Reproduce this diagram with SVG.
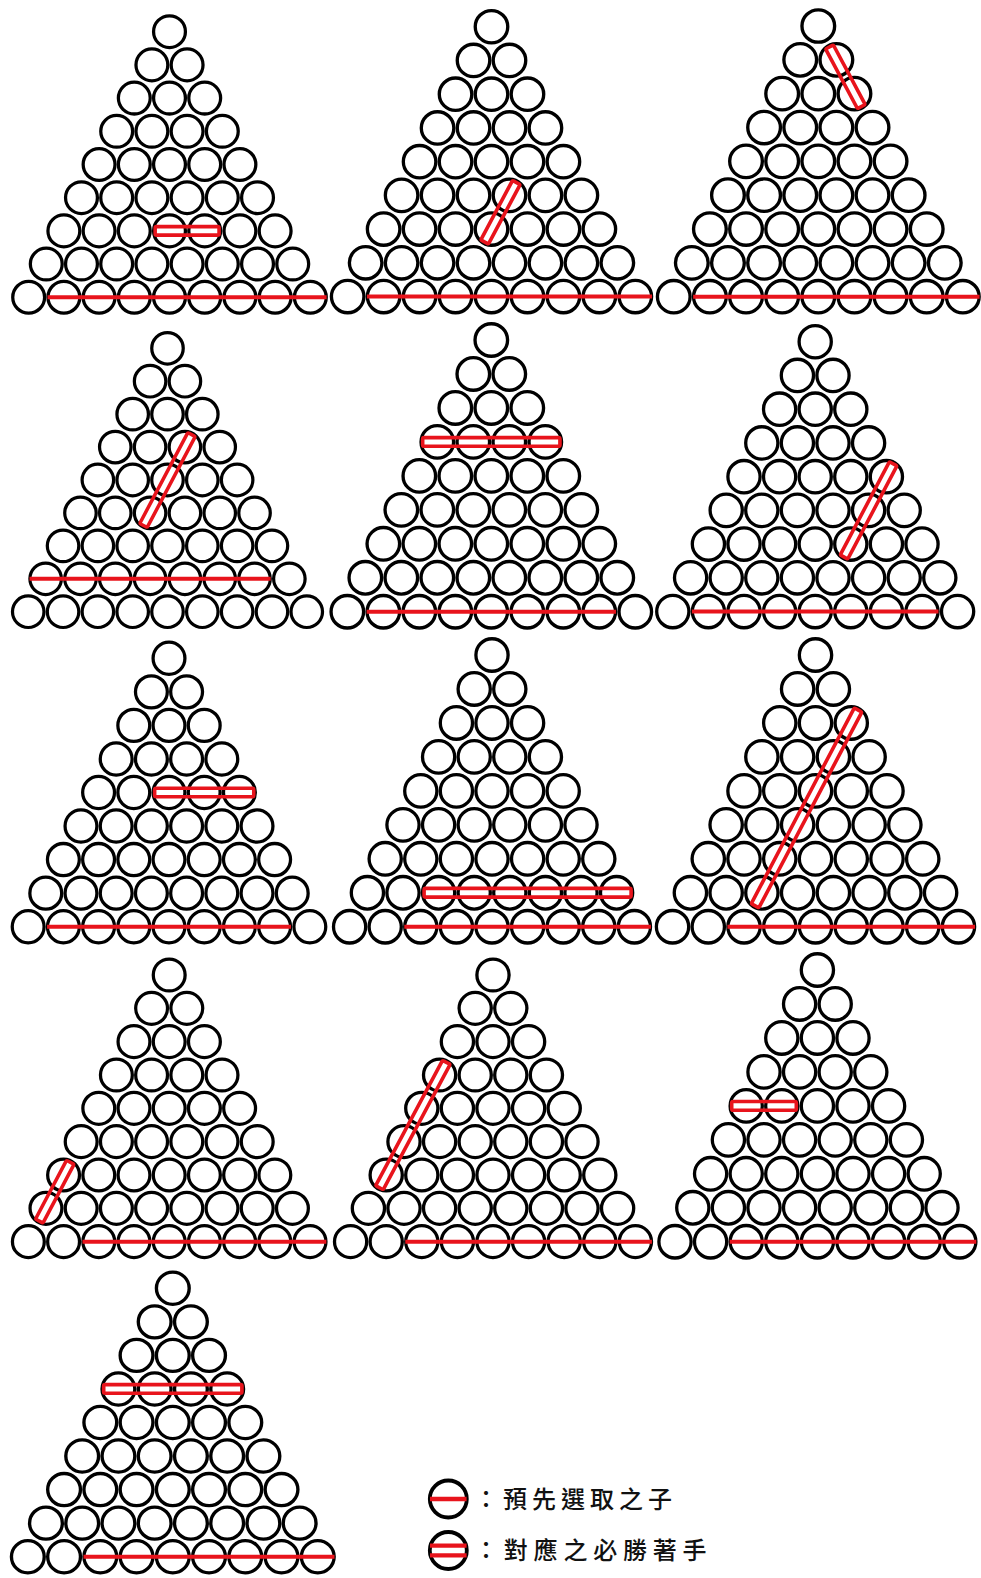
<svg xmlns="http://www.w3.org/2000/svg" xmlns:xlink="http://www.w3.org/1999/xlink" width="981" height="1578" viewBox="0 0 981 1578">
<style>
.c{fill:#fff;stroke:#000;stroke-width:3.3}
.base{stroke:#e8141c;stroke-width:4;fill:none}
.dbl{fill:none;stroke:#e8141c;stroke-width:3.6}
.lc{fill:#fff;stroke:#000;stroke-width:3.8}
.lt{font-family:"Noto Sans CJK TC","Noto Sans CJK SC",sans-serif;font-size:24px;font-weight:500;fill:#111}
</style>
<defs>
<g id="tri">
<circle class="c" cx="0" cy="0" r="16.1"/>
<circle class="c" cx="-17.8" cy="33.6" r="16.1"/><circle class="c" cx="17.8" cy="33.6" r="16.1"/>
<circle class="c" cx="-35.6" cy="67.2" r="16.1"/><circle class="c" cx="0" cy="67.2" r="16.1"/><circle class="c" cx="35.6" cy="67.2" r="16.1"/>
<circle class="c" cx="-53.4" cy="100.8" r="16.1"/><circle class="c" cx="-17.8" cy="100.8" r="16.1"/><circle class="c" cx="17.8" cy="100.8" r="16.1"/><circle class="c" cx="53.4" cy="100.8" r="16.1"/>
<circle class="c" cx="-71.2" cy="134.4" r="16.1"/><circle class="c" cx="-35.6" cy="134.4" r="16.1"/><circle class="c" cx="0" cy="134.4" r="16.1"/><circle class="c" cx="35.6" cy="134.4" r="16.1"/><circle class="c" cx="71.2" cy="134.4" r="16.1"/>
<circle class="c" cx="-89" cy="168" r="16.1"/><circle class="c" cx="-53.4" cy="168" r="16.1"/><circle class="c" cx="-17.8" cy="168" r="16.1"/><circle class="c" cx="17.8" cy="168" r="16.1"/><circle class="c" cx="53.4" cy="168" r="16.1"/><circle class="c" cx="89" cy="168" r="16.1"/>
<circle class="c" cx="-106.8" cy="201.6" r="16.1"/><circle class="c" cx="-71.2" cy="201.6" r="16.1"/><circle class="c" cx="-35.6" cy="201.6" r="16.1"/><circle class="c" cx="0" cy="201.6" r="16.1"/><circle class="c" cx="35.6" cy="201.6" r="16.1"/><circle class="c" cx="71.2" cy="201.6" r="16.1"/><circle class="c" cx="106.8" cy="201.6" r="16.1"/>
<circle class="c" cx="-124.6" cy="235.2" r="16.1"/><circle class="c" cx="-89" cy="235.2" r="16.1"/><circle class="c" cx="-53.4" cy="235.2" r="16.1"/><circle class="c" cx="-17.8" cy="235.2" r="16.1"/><circle class="c" cx="17.8" cy="235.2" r="16.1"/><circle class="c" cx="53.4" cy="235.2" r="16.1"/><circle class="c" cx="89" cy="235.2" r="16.1"/><circle class="c" cx="124.6" cy="235.2" r="16.1"/>
<circle class="c" cx="-142.4" cy="268.8" r="16.1"/><circle class="c" cx="-106.8" cy="268.8" r="16.1"/><circle class="c" cx="-71.2" cy="268.8" r="16.1"/><circle class="c" cx="-35.6" cy="268.8" r="16.1"/><circle class="c" cx="0" cy="268.8" r="16.1"/><circle class="c" cx="35.6" cy="268.8" r="16.1"/><circle class="c" cx="71.2" cy="268.8" r="16.1"/><circle class="c" cx="106.8" cy="268.8" r="16.1"/><circle class="c" cx="142.4" cy="268.8" r="16.1"/>
</g>
</defs>

<g id="t1" transform="translate(169.5,31.7) scale(0.989,0.988)">
<use href="#tri"/>
<line class="base" x1="-123.3" y1="268.8" x2="158.9" y2="268.8"/>
<rect class="dbl" x="-14.5" y="197.3" width="64.6" height="8.6" rx="1.5"/>
</g>
<g id="t2" transform="translate(491.5,26.7) scale(1.01,1.004)">
<use href="#tri"/>
<line class="base" x1="-123.3" y1="268.8" x2="158.9" y2="268.8"/>
<rect class="dbl" x="-14.5" y="-4.3" width="67" height="8.6" rx="1.5" transform="translate(0,201.6) rotate(-62.08)"/>
</g>
<g id="t3" transform="translate(818.3,26) scale(1.015,1.007)">
<use href="#tri"/>
<line class="base" x1="-123.3" y1="268.8" x2="158.9" y2="268.8"/>
<rect class="dbl" x="-14.5" y="-4.3" width="67" height="8.6" rx="1.5" transform="translate(17.8,33.6) rotate(62.08)"/>
</g>

<g id="t4" transform="translate(167.5,348.3) scale(0.978,0.98)">
<use href="#tri"/>
<line class="base" x1="-141.1" y1="235.2" x2="105.5" y2="235.2"/>
<rect class="dbl" x="-14.5" y="-4.3" width="105" height="8.6" rx="1.5" transform="translate(-17.8,168) rotate(-62.08)"/>
</g>
<g id="t5" transform="translate(491.3,340) scale(1.011,1.011)">
<use href="#tri"/>
<line class="base" x1="-123.3" y1="268.8" x2="123.3" y2="268.8"/>
<rect class="dbl" x="-67.9" y="96.5" width="135.8" height="8.6" rx="1.5"/>
</g>
<g id="t6" transform="translate(815.2,341.7) scale(1,1.004)">
<use href="#tri"/>
<line class="base" x1="-123.3" y1="268.8" x2="123.3" y2="268.8"/>
<rect class="dbl" x="-14.5" y="-4.3" width="105" height="8.6" rx="1.5" transform="translate(35.6,201.6) rotate(-62.08)"/>
</g>

<g id="t7" transform="translate(169,658.3) scale(0.989,0.9985)">
<use href="#tri"/>
<line class="base" x1="-123.3" y1="268.8" x2="123.3" y2="268.8"/>
<rect class="dbl" x="-14.5" y="130.1" width="100.2" height="8.6" rx="1.5"/>
</g>
<g id="t8" transform="translate(492,655) scale(1,1.011)">
<use href="#tri"/>
<line class="base" x1="-87.7" y1="268.8" x2="158.9" y2="268.8"/>
<rect class="dbl" x="-67.9" y="230.9" width="207" height="8.6" rx="1.5"/>
</g>
<g id="t9" transform="translate(815.5,655) scale(1.004,1.011)">
<use href="#tri"/>
<line class="base" x1="-87.7" y1="268.8" x2="158.9" y2="268.8"/>
<rect class="dbl" x="-14.5" y="-4.3" width="219.1" height="8.6" rx="1.5" transform="translate(-53.4,235.2) rotate(-62.08)"/>
</g>

<g id="t10" transform="translate(169.2,975) scale(0.989,0.992)">
<use href="#tri"/>
<line class="base" x1="-87.7" y1="268.8" x2="158.9" y2="268.8"/>
<rect class="dbl" x="-14.5" y="-4.3" width="67" height="8.6" rx="1.5" transform="translate(-124.6,235.2) rotate(-62.08)"/>
</g>
<g id="t11" transform="translate(493,975) scale(1,0.992)">
<use href="#tri"/>
<line class="base" x1="-87.7" y1="268.8" x2="158.9" y2="268.8"/>
<rect class="dbl" x="-14.5" y="-4.3" width="143" height="8.6" rx="1.5" transform="translate(-106.8,201.6) rotate(-62.08)"/>
</g>
<g id="t12" transform="translate(817.4,970) scale(1,1.011)">
<use href="#tri"/>
<line class="base" x1="-87.7" y1="268.8" x2="158.9" y2="268.8"/>
<rect class="dbl" x="-85.7" y="130.1" width="64.6" height="8.6" rx="1.5"/>
</g>

<g id="t13" transform="translate(172.8,1288.3) scale(1.018,0.9985)">
<use href="#tri"/>
<line class="base" x1="-87.7" y1="268.8" x2="158.9" y2="268.8"/>
<rect class="dbl" x="-67.9" y="96.5" width="135.8" height="8.6" rx="1.5"/>
</g>

<g id="legend">
<circle class="lc" cx="448.3" cy="1499" r="18.5"/>
<line class="base" x1="430" y1="1499" x2="466.6" y2="1499" style="stroke-width:4.4"/>
<text class="lt" x="474" y="1508" letter-spacing="5">：預先選取之子</text>
<circle class="lc" cx="448.3" cy="1550.5" r="18.5"/>
<line class="base" x1="430" y1="1545.6" x2="466.6" y2="1545.6" style="stroke-width:4.4"/>
<line class="base" x1="430" y1="1555.4" x2="466.6" y2="1555.4" style="stroke-width:4.4"/>
<text class="lt" x="474" y="1559" letter-spacing="5.8">：對應之必勝著手</text>
</g>
</svg>
